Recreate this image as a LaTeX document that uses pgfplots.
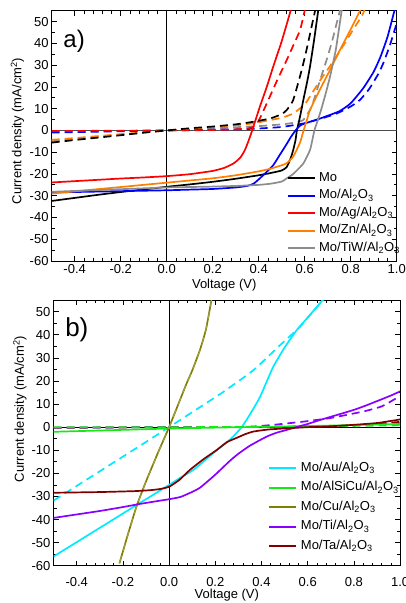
\documentclass[border=0pt]{standalone}
\usepackage{fontspec}
\setmainfont{Liberation Sans}
\usepackage{pgfplots}
\pgfplotsset{compat=1.18}
\definecolor{cBlack}{RGB}{0,0,0}
\definecolor{cBlue}{RGB}{0,0,255}
\definecolor{cRed}{RGB}{255,0,0}
\definecolor{cOrange}{RGB}{255,128,0}
\definecolor{cGray}{RGB}{140,140,140}
\definecolor{cCyan}{RGB}{0,235,255}
\definecolor{cGreen}{RGB}{20,235,20}
\definecolor{cOlive}{RGB}{128,128,0}
\definecolor{cOliveD}{RGB}{160,160,70}
\definecolor{cPurple}{RGB}{136,0,255}
\definecolor{cBrown}{RGB}{128,0,0}
\pgfplotsset{
 jv/.style={
  scale only axis,
  anchor=south west,
  xmin=-0.5,xmax=1.0,ymin=-60,ymax=55,
  xtick={-0.4,-0.2,0,0.2,0.4,0.6,0.8,1.0},
  ytick={-60,-50,-40,-30,-20,-10,0,10,20,30,40,50},
  minor x tick num=4, minor y tick num=1,
  major tick length=5bp, minor tick length=3bp,
  tick align=inside,
  tick style={line width=0.7bp,color=black},
  axis line style={line width=0.9bp},
  /pgf/number format/assume math mode=true,
  xticklabel style={/pgf/number format/fixed,/pgf/number format/fixed zerofill,/pgf/number format/precision=1, anchor=base},
  yticklabel style={anchor=east, inner sep=0pt, xshift=-3bp},
  every axis plot/.append style={line width=1.7bp, no markers, smooth, tension=0.3},
  legend cell align=left,
  legend style={draw=none, fill=none, inner sep=0pt, outer sep=0pt, anchor=north west,
    row sep=1.5bp, column sep=2bp,
    nodes={inner sep=1.5bp, text height=9.5bp, text depth=3.5bp}},
  legend image code/.code={\draw[#1, line width=2bp] (0bp,0bp) -- (27bp,0bp);},
 },
 dk/.style={dash pattern=on 8bp off 5bp},
}
\begin{document}
\begin{tikzpicture}[font=\fontsize{13bp}{15bp}\selectfont]
\useasboundingbox (0,0) rectangle (406bp,603bp);
% ---------------- panel a ----------------
\begin{axis}[jv, at={(51.7bp,342bp)}, width=345bp, height=250.2bp,
  xticklabel style={yshift=-12.2bp},
  xlabel={Voltage (V)}, ylabel={Current density (mA/cm\textsuperscript{2})},
  every axis x label/.style={at={(rel axis cs:0.5,0)}, yshift=-24bp, anchor=center},
  every axis y label/.style={at={(rel axis cs:0,0.52)}, xshift=-34.2bp, rotate=90, anchor=center},
  legend style={at={(rel axis cs:0.681,0.362)}}]
\addplot[forget plot, color=black!70, line width=1.6bp, sharp plot] coordinates {(-0.5,0) (1.0,0)};
\addplot[forget plot, color=black, line width=1bp, sharp plot] coordinates {(0,-60) (0,55)};
% dark (dashed)
\addplot[forget plot, cGray, dk] coordinates {(-0.5,-5) (-0.3,-3) (-0.1,-1) (0,0) (0.2,1) (0.4,2) (0.5,2.8) (0.55,3.5) (0.594,4.8) (0.63,11) (0.667,23.2) (0.7,34) (0.724,43) (0.755,56)};
\addplot[forget plot, cBlue, dk] coordinates {(-0.5,-1) (-0.3,-0.6) (0,0) (0.3,0.5) (0.4,0.9) (0.5,1.6) (0.594,3.2) (0.667,5.3) (0.739,7.8) (0.8,11) (0.84,14) (0.88,19) (0.92,26) (0.942,31) (0.97,39) (1.0,49.3)};
\addplot[forget plot, cRed, dk] coordinates {(-0.5,-0.3) (-0.2,-0.1) (0,0) (0.2,0.2) (0.3,0.5) (0.35,0.9) (0.377,1.7) (0.4,4.5) (0.435,12.4) (0.48,23) (0.522,32.4) (0.55,39) (0.58,46.2) (0.602,56)};
\addplot[forget plot, cOrange, dk] coordinates {(-0.5,-4.3) (-0.4,-3.5) (-0.3,-2.6) (-0.2,-1.7) (-0.1,-0.9) (0,0) (0.1,0.8) (0.2,1.6) (0.3,2.4) (0.377,3.3) (0.45,4.8) (0.5,5.8) (0.55,7.8) (0.6,12) (0.64,18.5) (0.667,23) (0.7,28) (0.75,36) (0.8,44.5) (0.85,53) (0.862,56)};
\addplot[forget plot, cBlack, dk] coordinates {(-0.5,-5.6) (-0.4,-4.4) (-0.3,-3.3) (-0.2,-2.2) (-0.1,-1) (0,0) (0.1,1) (0.2,1.8) (0.3,2.8) (0.377,4) (0.45,5.5) (0.5,7.5) (0.522,9.4) (0.55,14) (0.587,27.8) (0.61,38) (0.63,47.7) (0.647,56)};
% illuminated (solid)
\addplot[cBlack] coordinates {(-0.5,-32.4) (-0.4,-31) (-0.3,-29.6) (-0.2,-28.3) (-0.1,-27.1) (0,-25.9) (0.1,-24.8) (0.2,-23.6) (0.3,-22.2) (0.4,-20.6) (0.45,-19.6) (0.5,-18.4) (0.522,-16.8) (0.54,-12.5) (0.55,-9) (0.56,-4.5) (0.566,0) (0.58,6.5) (0.594,14) (0.61,22) (0.623,29.3) (0.64,41) (0.66,56)};
\addlegendentry{Mo}
\addplot[cBlue] coordinates {(-0.5,-28.5) (-0.3,-28.1) (-0.1,-27.7) (0,-27.5) (0.1,-27.2) (0.2,-26.9) (0.3,-26.2) (0.35,-25.5) (0.377,-24.5) (0.4,-22.5) (0.43,-19.5) (0.463,-16) (0.493,-11) (0.52,-6.5) (0.54,-3) (0.56,0) (0.58,2.2) (0.6,3.2) (0.667,5.5) (0.75,8.8) (0.8,12.5) (0.855,19.5) (0.9,27) (0.93,34) (0.96,43) (0.985,53) (1.0,59)};
\addlegendentry{Mo/Al\textsubscript{2}O\textsubscript{3}}
\addplot[cRed] coordinates {(-0.5,-23.9) (-0.4,-23.3) (-0.3,-22.7) (-0.2,-22.1) (-0.1,-21.6) (0,-21) (0.1,-20.1) (0.2,-18.6) (0.25,-17.2) (0.29,-15.2) (0.32,-12.5) (0.34,-9) (0.355,-5) (0.37,-0.5) (0.405,10.9) (0.435,20) (0.463,29.3) (0.5,41) (0.536,54) (0.54,55.5)};
\addlegendentry{Mo/Ag/Al\textsubscript{2}O\textsubscript{3}}
\addplot[cOrange] coordinates {(-0.5,-29) (-0.4,-28) (-0.3,-27) (-0.2,-26) (-0.1,-25) (0,-24) (0.1,-23) (0.2,-22) (0.3,-20.6) (0.4,-18.8) (0.45,-17.6) (0.5,-16) (0.522,-15) (0.55,-12) (0.58,-5.5) (0.595,0) (0.61,5) (0.623,9.4) (0.66,17.5) (0.71,27.8) (0.75,36.3) (0.8,46.5) (0.845,56)};
\addlegendentry{Mo/Zn/Al\textsubscript{2}O\textsubscript{3}}
\addplot[cGray] coordinates {(-0.5,-28.2) (-0.3,-27.4) (-0.1,-26.6) (0,-26.2) (0.1,-26) (0.2,-25.8) (0.3,-25.5) (0.4,-25) (0.45,-24.5) (0.5,-23.5) (0.522,-22) (0.55,-20) (0.594,-15.2) (0.623,-9) (0.635,-3.5) (0.642,0) (0.652,3.2) (0.67,9) (0.69,16.5) (0.71,24.7) (0.735,37) (0.762,56)};
\addlegendentry{Mo/TiW/Al\textsubscript{2}O\textsubscript{3}}
\node[font=\fontsize{24bp}{26bp}\selectfont] at (rel axis cs:0.065,0.879) {a)};
\end{axis}
% ---------------- panel b ----------------
\begin{axis}[jv, at={(53.6bp,37.3bp)}, width=346.5bp, height=265.5bp,
  xticklabel style={yshift=-20.6bp},
  xlabel={Voltage (V)}, ylabel={Current density (mA/cm\textsuperscript{2})},
  every axis x label/.style={at={(rel axis cs:0.5,0)}, yshift=-29.3bp, anchor=center},
  every axis y label/.style={at={(rel axis cs:0,0.59)}, xshift=-33.6bp, rotate=90, anchor=center},
  legend style={at={(rel axis cs:0.62,0.397)}, row sep=3.5bp}]
\addplot[forget plot, color=black, line width=1bp, sharp plot] coordinates {(-0.5,0) (1.0,0)};
\addplot[forget plot, color=black, line width=1bp, sharp plot] coordinates {(0,-60) (0,55)};
% dark (dashed)
\addplot[forget plot, cCyan, dk] coordinates {(-0.5,-31.8) (-0.3,-19.1) (-0.1,-6.4) (0,0) (0.1,6.5) (0.235,15.3) (0.365,24.7) (0.48,35.5) (0.567,43.5) (0.61,48.6) (0.66,54.3) (0.675,56)};
\addplot[forget plot, cBrown, dk] coordinates {(-0.5,-0.3) (0,0) (0.5,0.2) (0.8,0.8) (1.0,2.3)};
\addplot[forget plot, cPurple, dk] coordinates {(-0.5,-0.2) (0,0) (0.3,0.1) (0.365,0.3) (0.45,1) (0.581,2.4) (0.7,4) (0.841,6.8) (0.92,9) (0.985,12.6) (1.0,13.5)};
% illuminated (solid)
\addplot[cCyan] coordinates {(-0.5,-56) (-0.4,-49.8) (-0.3,-43.6) (-0.2,-37.4) (-0.13,-33) (-0.1,-31.2) (-0.04,-27.5) (0,-25) (0.05,-21.8) (0.105,-18.5) (0.15,-14.8) (0.2,-10.5) (0.25,-6.5) (0.278,-4) (0.314,0) (0.35,5.5) (0.394,13.2) (0.45,26) (0.5,34.5) (0.552,42) (0.6,47.5) (0.66,54.5) (0.67,55.5)};
\addlegendentry{Mo/Au/Al\textsubscript{2}O\textsubscript{3}}
\addplot[cGreen] coordinates {(-0.5,-2) (-0.25,-1.3) (0,-0.6) (0.25,-0.1) (0.5,0.3) (0.75,0.8) (1.0,1.4)};
\addlegendentry{Mo/AlSiCu/Al\textsubscript{2}O\textsubscript{3}}
\addplot[forget plot, cGreen, dk] coordinates {(-0.5,0) (0,0) (0.5,0.2) (1.0,0.8)};
\addplot[cOlive] coordinates {(-0.215,-59) (-0.18,-47) (-0.14,-34) (-0.1,-23.5) (-0.05,-11.5) (0,0) (0.04,10) (0.076,19) (0.1,24.5) (0.134,33.6) (0.16,42.5) (0.185,56)};
\addlegendentry{Mo/Cu/Al\textsubscript{2}O\textsubscript{3}}
\addplot[forget plot, cOliveD, dk, line width=1bp] coordinates {(-0.216,-59) (-0.18,-47.2) (-0.14,-34.1) (-0.1,-23.6) (-0.05,-11.6) (0,-0.1) (0.04,9.9) (0.076,18.9) (0.1,24.4) (0.134,33.5) (0.16,42.4) (0.184,55.5)};
\addplot[cPurple] coordinates {(-0.5,-39.3) (-0.4,-37.8) (-0.3,-36.3) (-0.2,-34.6) (-0.13,-33.3) (-0.05,-32) (0,-31.2) (0.05,-30.2) (0.105,-27.8) (0.134,-26.2) (0.178,-22.5) (0.206,-20) (0.264,-14.5) (0.3,-11.5) (0.35,-8) (0.422,-4.1) (0.465,-2.4) (0.509,-1.2) (0.55,0) (0.6,1.4) (0.653,3.1) (0.7,4.5) (0.797,7.4) (0.85,9.3) (0.913,11.8) (0.96,13.7) (1.0,15.5)};
\addlegendentry{Mo/Ti/Al\textsubscript{2}O\textsubscript{3}}
\addplot[cBrown] coordinates {(-0.5,-28.4) (-0.3,-28.1) (-0.15,-27.7) (-0.083,-27.3) (-0.04,-26.8) (0,-25.8) (0.045,-22.8) (0.09,-18.5) (0.15,-13.8) (0.206,-9.9) (0.25,-6.5) (0.293,-4.6) (0.33,-3) (0.365,-1.9) (0.43,-1) (0.509,-0.5) (0.6,0) (0.7,0.4) (0.797,1) (0.9,1.8) (0.985,3.1) (1.0,3.4)};
\addlegendentry{Mo/Ta/Al\textsubscript{2}O\textsubscript{3}}
\node[font=\fontsize{26bp}{28bp}\selectfont] at (rel axis cs:0.067,0.888) {b)};
\end{axis}
\end{tikzpicture}
\end{document}
